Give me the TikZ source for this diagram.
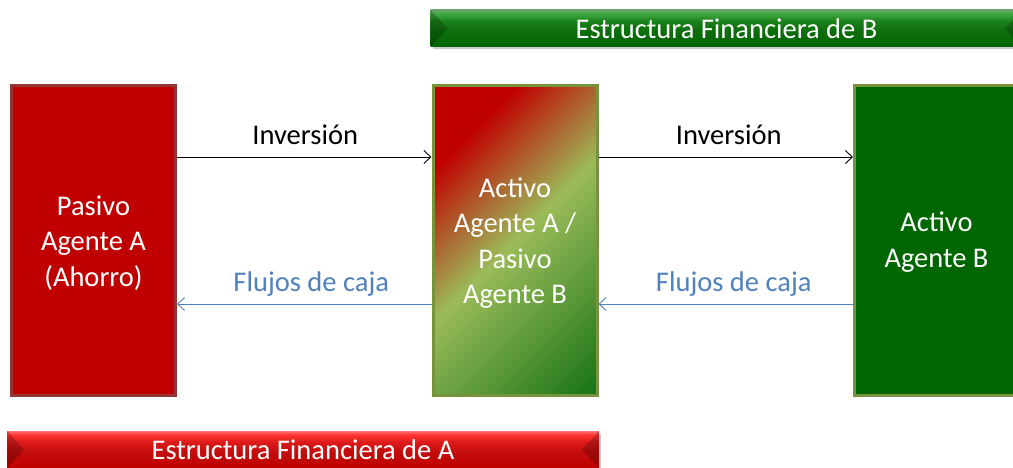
\documentclass[tikz,border=0pt]{standalone}
\usepackage{fontspec}
\setmainfont{Carlito}
\usetikzlibrary{arrows.meta,shadows}
\definecolor{rA}{HTML}{C00000}
\definecolor{rBorder}{HTML}{943634}
\definecolor{gBorder}{HTML}{77933C}
\definecolor{gDark}{HTML}{006600}
\definecolor{gLight}{HTML}{9BBB59}
\definecolor{gEnd}{HTML}{157215}
\definecolor{flow}{HTML}{4F81BD}
\newcommand\tstrut{\rule{0pt}{24.5pt}}
\pgfdeclarehorizontalshading{midgrad}{100bp}{color(0bp)=(rA); color(34bp)=(rA); color(50bp)=(gLight); color(75bp)=(gEnd); color(100bp)=(gEnd)}
\pgfdeclareverticalshading{bannerG}{100bp}{color(0bp)=(gDark); color(25bp)=(gDark); color(47bp)=(gDark!95!white); color(60bp)=(green!45!black!90!white); color(70bp)=(green!55!black!75!white); color(75bp)=(green!40!black!60!white); color(100bp)=(green!40!black!60!white)}
\pgfdeclareverticalshading{bannerR}{100bp}{color(0bp)=(rA); color(25bp)=(rA); color(47bp)=(rA!95!white); color(60bp)=(red!85!black!90!white); color(70bp)=(red!80!white); color(75bp)=(red!55!white); color(100bp)=(red!55!white)}
\tikzset{
  txt/.style={font=\fontsize{28.5}{35.5}\selectfont},
  agbox/.style={txt, text=white, align=center, minimum width=164pt, minimum height=310pt, inner sep=0pt, line width=3pt},
  banner/.style={txt, text=white, minimum width=592pt, minimum height=37pt, inner sep=0pt,
     drop shadow={shadow xshift=2pt, shadow yshift=-2.5pt, opacity=.35, fill=black!60},
     path picture={
       \fill[black,opacity=.2] (path picture bounding box.north west) -- ([xshift=17pt]path picture bounding box.west) -- (path picture bounding box.south west) -- cycle;
       \fill[black,opacity=.2] (path picture bounding box.north east) -- ([xshift=-17pt]path picture bounding box.east) -- (path picture bounding box.south east) -- cycle;
     }},
  inv/.style={black, line width=0.9pt, -{Straight Barb[length=7pt,width=13pt]}},
  flj/.style={flow, line width=0.9pt, -{Straight Barb[length=7pt,width=13pt]}},
  lbl/.style={txt, inner sep=0pt}
}
\begin{document}
\begin{tikzpicture}[x=1pt,y=-1pt]
\useasboundingbox (0,0) rectangle (1013,468);
\clip (0,0) rectangle (1013,468);
% banners
\node[banner, shading=bannerG] (bb) at (726.5,28.5) {Estructura Financiera de B};
\node[banner, shading=bannerR] (ba) at (303,449.5) {Estructura Financiera de A};
% boxes
\node[agbox, fill=rA, draw=rBorder] (pa) at (93.5,240.5) {\tstrut Pasivo\\Agente A\\(Ahorro)};
\node[agbox, draw=gBorder, path picture={\shade[shading=midgrad, shading angle=-45] ([shift={(-169pt,-169pt)}]path picture bounding box.center) rectangle ([shift={(169pt,169pt)}]path picture bounding box.center);}] (mid) at (515,240.5) {\tstrut Activo\\Agente A /\\Pasivo\\Agente B};
\node[agbox, fill=gDark, draw=gBorder] (ab) at (936.5,240.5) {\rule{0pt}{23pt}Activo\\Agente B};
% connectors
\draw[inv] ([yshift=83.5pt]pa.east) -- node[lbl, midway, yshift=22pt, xshift=1pt] {Inversión} ([yshift=83.5pt]mid.west);
\draw[inv] ([yshift=83.5pt]mid.east) -- node[lbl, midway, yshift=22pt, xshift=3pt] {Inversión} ([yshift=83.5pt]ab.west);
\draw[flj] ([yshift=-63.5pt]mid.west) -- node[lbl, text=flow, midway, yshift=20pt, xshift=7pt] {Flujos de caja} ([yshift=-63.5pt]pa.east);
\draw[flj] ([yshift=-63.5pt]ab.west) -- node[lbl, text=flow, midway, yshift=20pt, xshift=8pt] {Flujos de caja} ([yshift=-63.5pt]mid.east);
\end{tikzpicture}
\end{document}
